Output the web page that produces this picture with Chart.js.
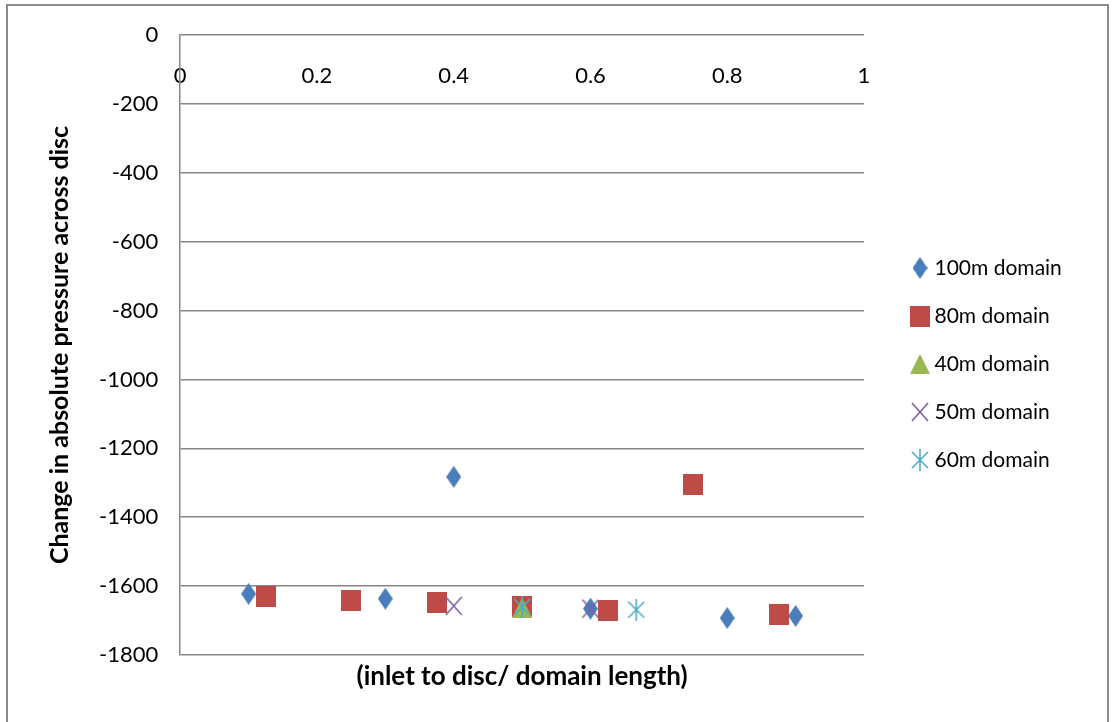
<!DOCTYPE html>
<html>
<head>
<meta charset="utf-8">
<script src="https://cdn.jsdelivr.net/npm/chart.js@4"></script>
<style>
  html, body { margin: 0; padding: 0; background: #fff; }
  #wrap { position: relative; width: 1113px; height: 722px; }
  #frame { position: absolute; left: 6px; top: 4px; width: 1103px; height: 730px;
           border: 2px solid #8c8c8c; box-sizing: border-box; pointer-events: none; }
  canvas { position: absolute; left: 0; top: 0; }
</style>
</head>
<body>
<div id="wrap">
  <canvas id="pressureChart" width="1113" height="722"></canvas>
  <div id="frame"></div>
</div>
<script>
// position of disc (inlet to disc / domain length) and pressure change
const x100 = [0.1, 0.3, 0.4, 0.6, 0.8, 0.9];
const y100 = [-1623, -1637, -1283, -1666, -1693, -1687];
const x80 = [0.125, 0.25, 0.375, 0.5, 0.625, 0.75, 0.875];
const y80 = [-1631, -1643, -1649, -1660, -1672, -1306, -1684];
const x40 = [0.5];
const y40 = [-1663];
const x50 = [0.4, 0.6];
const y50 = [-1658, -1666];
const x60 = [0.5, 0.667];
const y60 = [-1661, -1669];

const seriesNames = ['100m domain', '80m domain', '40m domain', '50m domain', '60m domain'];
const yTicks = [0, -200, -400, -600, -800, -1000, -1200, -1400, -1600, -1800];
const xTicks = [0, 0.2, 0.4, 0.6, 0.8, 1];

const FONT = 'Lato, "Open Sans", sans-serif';

function toPoints(xs, ys) {
  return xs.map((x, i) => ({ x: x, y: ys[i] }));
}

// small canvases used as marker shapes
function marker(w, h, draw) {
  const c = document.createElement('canvas');
  c.width = w; c.height = h;
  draw(c.getContext('2d'), w, h);
  return c;
}

const diamond = marker(15, 22, (ctx, w, h) => {
  ctx.fillStyle = '#4a7ebb';
  ctx.beginPath();
  ctx.moveTo(w / 2, 0); ctx.lineTo(w, h / 2); ctx.lineTo(w / 2, h); ctx.lineTo(0, h / 2);
  ctx.closePath(); ctx.fill();
});
const square = marker(20, 21, (ctx, w, h) => {
  ctx.fillStyle = '#be4b48';
  ctx.fillRect(0, 0, w, h);
});
const triangle = marker(20, 20, (ctx, w, h) => {
  ctx.fillStyle = '#98b954';
  ctx.beginPath();
  ctx.moveTo(w / 2, 0); ctx.lineTo(w, h); ctx.lineTo(0, h);
  ctx.closePath(); ctx.fill();
});
const cross = marker(18, 20, (ctx, w, h) => {
  ctx.strokeStyle = '#7d60a0';
  ctx.lineWidth = 1.6;
  ctx.beginPath();
  ctx.moveTo(1, 1); ctx.lineTo(w - 1, h - 1);
  ctx.moveTo(w - 1, 1); ctx.lineTo(1, h - 1);
  ctx.stroke();
});
const star = marker(18, 22, (ctx, w, h) => {
  ctx.strokeStyle = '#4bacc6';
  ctx.lineWidth = 1.6;
  ctx.beginPath();
  ctx.moveTo(w / 2, 0); ctx.lineTo(w / 2, h);
  ctx.moveTo(1, 3); ctx.lineTo(w - 1, h - 3);
  ctx.moveTo(w - 1, 3); ctx.lineTo(1, h - 3);
  ctx.stroke();
});

function makeSet(i, xs, ys, style, color) {
  return {
    label: seriesNames[i],
    data: toPoints(xs, ys),
    pointStyle: style,
    backgroundColor: color,
    borderColor: color,
    showLine: false,
    order: 5 - i
  };
}

// the legend box is sized to the measured text; give it a little spare width
const legendRoom = {
  id: 'legendRoom',
  beforeLayout(chart) {
    const legend = chart.legend;
    if (legend && !legend._roomy) {
      const fit = legend.fit.bind(legend);
      legend.fit = () => { fit(); legend.width += 12; };
      legend._roomy = true;
    }
  }
};

const ctx = document.getElementById('pressureChart').getContext('2d');
const pressureChart = new Chart(ctx, {
  type: 'scatter',
  data: {
    datasets: [
      makeSet(0, x100, y100, diamond, '#4a7ebb'),
      makeSet(1, x80, y80, square, '#be4b48'),
      makeSet(2, x40, y40, triangle, '#98b954'),
      makeSet(3, x50, y50, cross, '#7d60a0'),
      makeSet(4, x60, y60, star, '#4bacc6')
    ]
  },
  plugins: [legendRoom],
  options: {
    responsive: false,
    animation: false,
    layout: { padding: { left: 41, top: 35, right: 40, bottom: 29 } },
    plugins: {
      tooltip: { enabled: false },
      legend: {
        position: 'right',
        labels: {
          usePointStyle: true,
          pointStyleWidth: 8,
          color: '#000',
          font: { family: FONT, size: 21 },
          padding: 27,
          sort: (a, b) => a.datasetIndex - b.datasetIndex
        }
      },
      title: {
        display: true,
        position: 'bottom',
        fullSize: false,
        text: '(inlet to disc/ domain length)',
        color: '#000',
        font: { family: FONT, size: 26, weight: 'bold' },
        padding: { top: 6, bottom: 1 }
      }
    },
    scales: {
      x: {
        type: 'linear',
        position: { y: 0 },
        min: 0,
        max: 1,
        afterBuildTicks: scale => { scale.ticks = xTicks.map(v => ({ value: v })); },
        grid: { display: false, drawTicks: false },
        border: { display: false },
        ticks: {
          color: '#000',
          font: { family: FONT, size: 22 },
          padding: 28,
          maxRotation: 0,
          callback: v => String(Math.round(v * 10) / 10)
        }
      },
      y: {
        min: -1800,
        max: 0,
        afterBuildTicks: scale => { scale.ticks = yTicks.map(v => ({ value: v })); },
        grid: { color: '#868686', lineWidth: 1.5, drawTicks: false },
        border: { color: '#868686', width: 1.5 },
        ticks: {
          color: '#000',
          font: { family: FONT, size: 22 },
          padding: 22,
          callback: v => String(v)
        },
        title: {
          display: true,
          text: 'Change in absolute pressure across disc',
          color: '#000',
          font: { family: FONT, size: 25, weight: 'bold' },
          padding: { top: 4, bottom: 2 }
        }
      },
      // empty strip between the plot and the legend
      gap: {
        axis: 'y',
        position: 'right',
        grid: { display: false },
        border: { display: false },
        ticks: { display: false },
        afterFit: scale => { scale.width = 25; }
      }
    }
  }
});
</script>
</body>
</html>
